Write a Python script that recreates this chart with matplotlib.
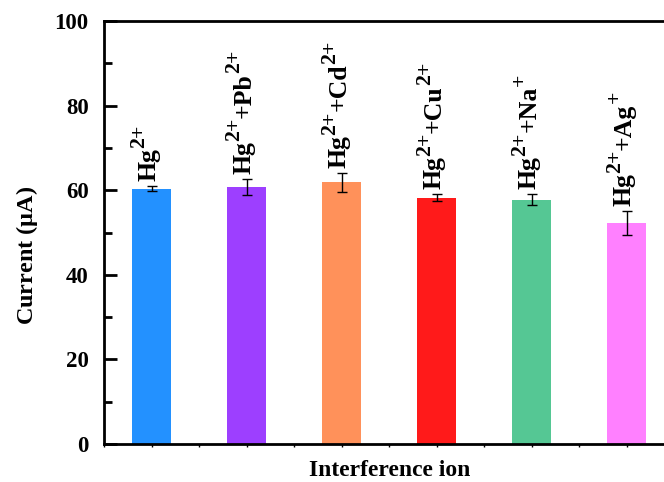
import numpy as np
import matplotlib
matplotlib.use("Agg")
import matplotlib.pyplot as plt
from matplotlib.ticker import MultipleLocator
from matplotlib.transforms import IdentityTransform

plt.rcParams['font.family'] = ['Liberation Serif', 'DejaVu Serif']
plt.rcParams['font.weight'] = 'bold'
plt.rcParams['mathtext.default'] = 'regular'

# second ion added to Hg2+ (empty = Hg2+ alone) and its charge
ions = ["", "Pb", "Cd", "Cu", "Na", "Ag"]
charges = ["", "2+", "2+", "2+", "+", "+"]
current = [60.4, 60.8, 61.9, 58.2, 57.8, 52.3]
err = [0.55, 1.9, 2.25, 0.85, 1.4, 2.8]
colors = ['#2391FF', '#9D3FFF', '#FF915A', '#FF1A1A', '#55C794', '#FF80FF']

dpi = 100
fig = plt.figure(figsize=(6.64, 4.82), dpi=dpi)
ax = fig.add_axes([104 / 664, 38 / 482, (674.5 - 104) / 664, (444 - 21) / 482])

xs = np.arange(1, len(current) + 1)
ax.bar(xs, current, width=0.41, color=colors, edgecolor='none', zorder=2)
ax.errorbar(xs, current, yerr=err, fmt='none', ecolor='black',
            elinewidth=1.0, capsize=3.5, capthick=1.0, zorder=3)

ax.set_xlim(0.5, 6.5)
ax.set_ylim(0, 100)
ax.yaxis.set_major_locator(MultipleLocator(20))
ax.yaxis.set_minor_locator(MultipleLocator(10))
ax.xaxis.set_major_locator(MultipleLocator(0.5))
ax.set_xticklabels([])
ax.tick_params(axis='x', which='major', direction='out', length=2, width=1)
ax.tick_params(axis='y', which='major', direction='in', length=9.5, width=2,
               labelsize=16.5, pad=11, right=False)
ax.tick_params(axis='y', which='minor', direction='in', length=5.5, width=2)
for sp in ax.spines.values():
    sp.set_linewidth(2)

ax.set_ylabel(r"Current ($\mu$A)", fontsize=17.5, fontweight='bold')
ax.yaxis.set_label_coords(-0.112, 0.447)
ax.set_xlabel("Interference ion", fontsize=17, fontweight='bold', labelpad=6)

# rotated labels above the bars, built piece by piece (big superscripts)
fig.canvas.draw()
renderer = fig.canvas.get_renderer()
fs = 18.5
for x, v, e, ion, ch in zip(xs, current, err, ions, charges):
    xd, yd = ax.transData.transform((x, v + e))
    base_x = xd + 4
    cursor = yd + 5
    pieces = [("Hg", 1.0, 0.0), ("2+", 0.85, 11.0)]
    if ion:
        pieces += [("+" + ion, 1.0, 0.0), (ch, 0.85, 11.0)]
    for s, scale, rise in pieces:
        t = fig.text(base_x - rise, cursor, s, transform=IdentityTransform(),
                     rotation=90, rotation_mode='anchor', ha='left',
                     va='baseline', fontsize=fs * scale, fontweight='bold')
        bb = t.get_window_extent(renderer)
        cursor += bb.height

fig.savefig('out.png', dpi=dpi)
